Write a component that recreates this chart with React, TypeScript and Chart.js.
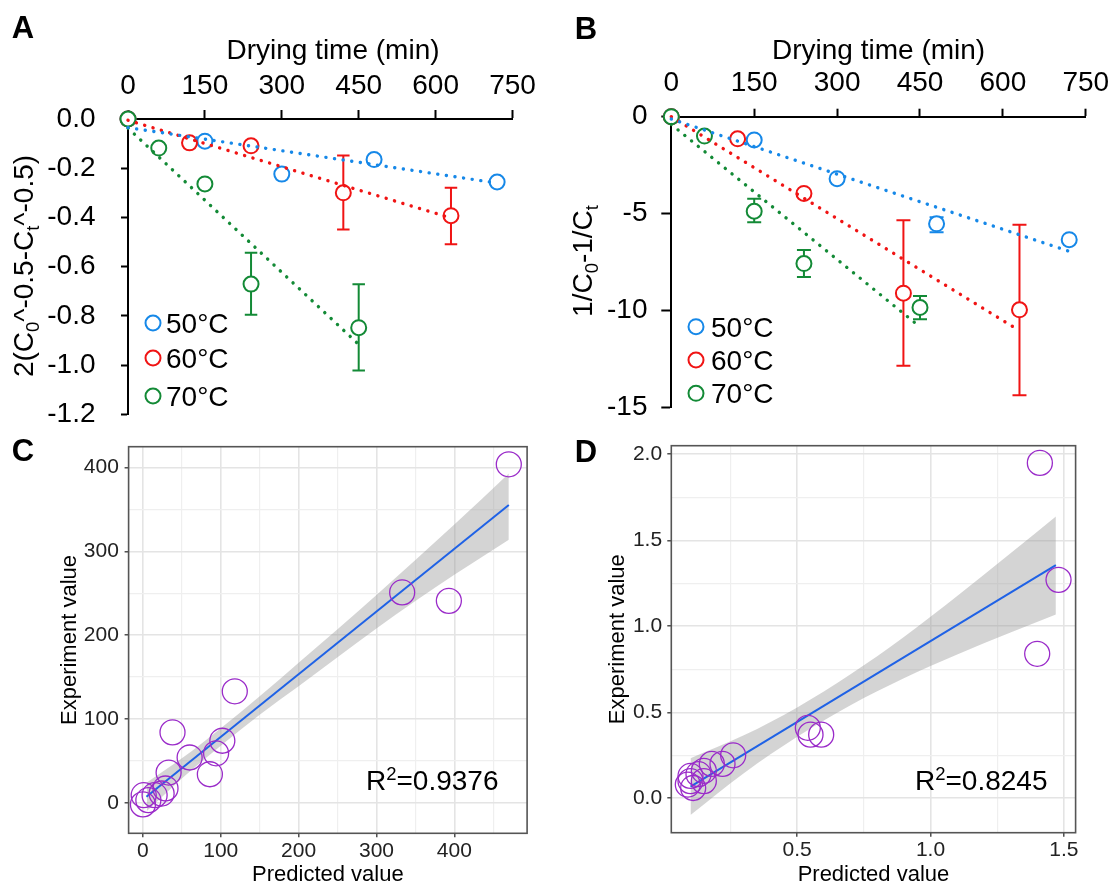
import React, { useEffect, useRef } from "react";
import { Chart, registerables } from "chart.js";

Chart.register(...registerables);

const FONT = "'Liberation Sans', Arial, Helvetica, sans-serif";

// ---------------- shared ----------------
const tempLabels = ["50°C", "60°C", "70°C"];
const tempColors = ["#1688E8", "#F01414", "#138A36"];
const timeTicks = [0, 150, 300, 450, 600, 750];

// ---------------- Panel A ----------------
const aYTicks = [0, -0.2, -0.4, -0.6, -0.8, -1.0, -1.2];
const a50Time = [0, 150, 300, 480, 720];
const a50Val = [0, -0.09, -0.224, -0.165, -0.256];
const a50Lo = [null, null, null, null, null];
const a50Hi = [null, null, null, null, null];
const a50FitTime = [0, 712];
const a50FitVal = [-0.035, -0.258];

const a60Time = [0, 120, 240, 420, 630];
const a60Val = [0, -0.097, -0.109, -0.3, -0.393];
const a60Lo = [null, null, null, -0.449, -0.509];
const a60Hi = [null, null, null, -0.148, -0.279];
const a60FitTime = [0, 625];
const a60FitVal = [-0.005, -0.399];

const a70Time = [0, 60, 150, 240, 450];
const a70Val = [0, -0.118, -0.264, -0.671, -0.848];
const a70Lo = [null, null, null, -0.795, -1.022];
const a70Hi = [null, null, null, -0.544, -0.672];
const a70FitTime = [0, 450];
const a70FitVal = [-0.037, -0.916];

// ---------------- Panel B ----------------
const bYTicks = [0, -5, -10, -15];
const b50Time = [0, 150, 300, 480, 720];
const b50Val = [0, -1.2, -3.2, -5.53, -6.35];
const b50Lo = [null, null, null, -5.96, null];
const b50Hi = [null, null, null, -5.19, null];
const b50FitTime = [0, 720];
const b50FitVal = [-0.12, -6.95];

const b60Time = [0, 120, 240, 420, 630];
const b60Val = [0, -1.14, -3.96, -9.11, -9.97];
const b60Lo = [null, null, null, -12.86, -14.38];
const b60Hi = [null, null, null, -5.35, -5.58];
const b60FitTime = [0, 620];
const b60FitVal = [0, -10.87];

const b70Time = [0, 60, 150, 240, 450];
const b70Val = [0, -1.0, -4.88, -7.58, -9.85];
const b70Lo = [null, null, -5.45, -8.28, -10.45];
const b70Hi = [null, null, -4.24, -6.88, -9.25];
const b70FitTime = [0, 450];
const b70FitVal = [-0.4, -10.85];

// ---------------- Panel C ----------------
const cXGrid = [0, 50, 100, 150, 200, 250, 300, 350, 400, 450];
const cYGrid = [0, 50, 100, 150, 200, 250, 300, 350, 400];
const cPredicted = [470, 333, 393, 118, 38, 102, 94, 60, 86, 33, 29, 24, 15, 7, 1, 0];
const cExperiment = [404, 251, 241, 133, 84, 74, 59, 54, 34, 36, 17, 11, 9, 3, 9, -2];
const cFitX = [4.5, 470];
const cFitY = [7.2, 355.5];
const cBandX = [5, 50, 100, 150, 200, 300, 400, 470];
const cBandUpper = [24, 53, 89, 127, 167, 248, 332, 393];
const cBandLower = [-10, 29, 68, 105, 139, 208, 272, 314];
const cR2 = "0.9376";

// ---------------- Panel D ----------------
const dXGrid = [0.25, 0.5, 0.75, 1.0, 1.25, 1.5];
const dYGrid = [0, 0.25, 0.5, 0.75, 1.0, 1.25, 1.5, 1.75, 2.0];
const dPredicted = [1.41, 1.48, 1.4, 0.54, 0.55, 0.59, 0.26, 0.22, 0.18, 0.15, 0.13, 0.1, 0.09, 0.11, 0.15, 0.1];
const dExperiment = [1.95, 1.27, 0.84, 0.41, 0.37, 0.37, 0.25, 0.2, 0.2, 0.16, 0.14, 0.13, 0.08, 0.06, 0.1, 0.1];
const dFitX = [0.1, 1.47];
const dFitY = [0.068, 1.356];
const dBandX = [0.1, 0.3, 0.5, 0.7, 0.9, 1.1, 1.3, 1.47];
const dBandUpper = [0.233, 0.366, 0.528, 0.721, 0.938, 1.176, 1.424, 1.638];
const dBandLower = [-0.097, 0.146, 0.358, 0.541, 0.698, 0.836, 0.964, 1.068];
const dR2 = "0.8245";

const PURPLE = "#9A2BC9";
const FIT_BLUE = "#1F62E6";

// ---------------- helpers ----------------
const pts = (xs: number[], ys: number[]) => xs.map((x, i) => ({ x, y: ys[i] }));

type Seg = { t: string; sub?: boolean; sup?: boolean };

function drawRich(
  ctx: CanvasRenderingContext2D,
  segs: Seg[],
  x: number,
  y: number,
  size: number,
  opts: { rotate?: boolean; align?: "left" | "center"; color?: string; bold?: boolean } = {}
) {
  const small = size * 0.66;
  ctx.save();
  ctx.translate(x, y);
  if (opts.rotate) ctx.rotate(-Math.PI / 2);
  ctx.fillStyle = opts.color || "#000";
  ctx.textAlign = "left";
  ctx.textBaseline = "alphabetic";
  const fontFor = (s: Seg) => `${opts.bold ? "bold " : ""}${s.sub || s.sup ? small : size}px ${FONT}`;
  const widths = segs.map((s) => {
    ctx.font = fontFor(s);
    return ctx.measureText(s.t).width;
  });
  const total = widths.reduce((a, b) => a + b, 0);
  let cx = opts.align === "left" ? 0 : -total / 2;
  const base = size * 0.358;
  segs.forEach((s, i) => {
    ctx.font = fontFor(s);
    const dy = s.sub ? size * 0.2 : s.sup ? -size * 0.36 : 0;
    ctx.fillText(s.t, cx, base + dy);
    cx += widths[i];
  });
  ctx.restore();
}

type Series = {
  label: string;
  color: string;
  x: number[];
  y: number[];
  lo: (number | null)[];
  hi: (number | null)[];
  fitX: number[];
  fitY: number[];
};

const seriesA: Series[] = [
  { label: tempLabels[0], color: tempColors[0], x: a50Time, y: a50Val, lo: a50Lo, hi: a50Hi, fitX: a50FitTime, fitY: a50FitVal },
  { label: tempLabels[1], color: tempColors[1], x: a60Time, y: a60Val, lo: a60Lo, hi: a60Hi, fitX: a60FitTime, fitY: a60FitVal },
  { label: tempLabels[2], color: tempColors[2], x: a70Time, y: a70Val, lo: a70Lo, hi: a70Hi, fitX: a70FitTime, fitY: a70FitVal },
];
const seriesB: Series[] = [
  { label: tempLabels[0], color: tempColors[0], x: b50Time, y: b50Val, lo: b50Lo, hi: b50Hi, fitX: b50FitTime, fitY: b50FitVal },
  { label: tempLabels[1], color: tempColors[1], x: b60Time, y: b60Val, lo: b60Lo, hi: b60Hi, fitX: b60FitTime, fitY: b60FitVal },
  { label: tempLabels[2], color: tempColors[2], x: b70Time, y: b70Val, lo: b70Lo, hi: b70Hi, fitX: b70FitTime, fitY: b70FitVal },
];

type KinParams = {
  series: Series[];
  yMin: number;
  yMax: number;
  yTicks: number[];
  yFmt: (v: number) => string;
  yAxisW: number;
  xAxisH: number;
  padRight: number;
  padBottom: number;
  xTickLen: number;
  yTickLen: number;
  xTickPad: number;
  yTickPad: number;
  capHalf: number;
  letter: string;
  letterX: number;
  letterY: number;
  xTitleX: number;
  xTitleY: number;
  yTitle: Seg[];
  yTitleX: number;
  yTitleY: number;
  legendCX: number;
  legendTX: number;
  legendYs: number[];
};

function kineticConfig(p: KinParams): any {
  const datasets: any[] = [];
  p.series.forEach((s, i) => {
    datasets.push({
      label: s.label,
      data: pts(s.x, s.y),
      showLine: false,
      borderColor: s.color,
      backgroundColor: "#fff",
      pointRadius: 7.5,
      pointBorderWidth: 2,
      pointBackgroundColor: "#fff",
      pointBorderColor: s.color,
      order: 3 - i,
      clip: false,
    });
  });
  p.series.forEach((s) => {
    datasets.push({
      label: s.label + " fit",
      data: pts(s.fitX, s.fitY),
      showLine: true,
      borderColor: s.color,
      borderWidth: 3.4,
      borderDash: [0.1, 8.6],
      borderCapStyle: "round",
      pointRadius: 0,
      fill: false,
      order: 0,
      clip: false,
      tension: 0,
    });
  });

  const plugin = {
    id: "kineticExtras",
    beforeDatasetsDraw(chart: any) {
      const ctx = chart.ctx as CanvasRenderingContext2D;
      const xs = chart.scales.x;
      const ys = chart.scales.y;
      p.series.forEach((s) => {
        s.x.forEach((xv, i) => {
          const lo = s.lo[i];
          const hi = s.hi[i];
          if (lo == null || hi == null) return;
          const px = xs.getPixelForValue(xv);
          const pl = ys.getPixelForValue(lo);
          const ph = ys.getPixelForValue(hi);
          ctx.save();
          ctx.strokeStyle = s.color;
          ctx.lineWidth = 2;
          ctx.beginPath();
          ctx.moveTo(px, pl);
          ctx.lineTo(px, ph);
          ctx.moveTo(px - p.capHalf, pl);
          ctx.lineTo(px + p.capHalf, pl);
          ctx.moveTo(px - p.capHalf, ph);
          ctx.lineTo(px + p.capHalf, ph);
          ctx.stroke();
          ctx.restore();
        });
      });
    },
    afterDraw(chart: any) {
      const ctx = chart.ctx as CanvasRenderingContext2D;
      drawRich(ctx, [{ t: p.letter }], p.letterX, p.letterY, 31, { bold: true });
      drawRich(ctx, [{ t: "Drying time (min)" }], p.xTitleX, p.xTitleY, 28);
      drawRich(ctx, p.yTitle, p.yTitleX, p.yTitleY, 28, { rotate: true });
      p.series.forEach((s, i) => {
        const y = p.legendYs[i];
        ctx.save();
        ctx.beginPath();
        ctx.arc(p.legendCX, y, 7.5, 0, Math.PI * 2);
        ctx.fillStyle = "#fff";
        ctx.fill();
        ctx.lineWidth = 2;
        ctx.strokeStyle = s.color;
        ctx.stroke();
        ctx.restore();
        drawRich(ctx, [{ t: s.label }], p.legendTX, y, 28, { align: "left" });
      });
    },
  };

  return {
    type: "line",
    data: { datasets },
    plugins: [plugin],
    options: {
      responsive: false,
      animation: false,
      devicePixelRatio: 1,
      events: [],
      layout: { padding: { left: 0, top: 0, right: p.padRight, bottom: p.padBottom } },
      plugins: { legend: { display: false }, tooltip: { enabled: false }, title: { display: false } },
      scales: {
        x: {
          type: "linear",
          position: "top",
          min: 0,
          max: 750,
          afterBuildTicks: (s: any) => {
            s.ticks = timeTicks.map((v) => ({ value: v }));
          },
          afterFit: (s: any) => {
            s.height = p.xAxisH;
            s.paddingLeft = 0;
            s.paddingRight = 0;
          },
          ticks: {
            font: { family: FONT, size: 28 },
            color: "#000",
            padding: p.xTickPad,
            maxRotation: 0,
            minRotation: 0,
            autoSkip: false,
            callback: (v: any) => String(v),
          },
          grid: { drawOnChartArea: false, drawTicks: true, tickLength: p.xTickLen, tickWidth: 2, tickColor: "#000" },
          border: { display: true, color: "#000", width: 2 },
        },
        y: {
          type: "linear",
          min: p.yMin,
          max: p.yMax,
          afterBuildTicks: (s: any) => {
            s.ticks = p.yTicks.map((v) => ({ value: v }));
          },
          afterFit: (s: any) => {
            s.width = p.yAxisW;
            s.paddingTop = 0;
            s.paddingBottom = 0;
          },
          ticks: {
            font: { family: FONT, size: 28 },
            color: "#000",
            padding: p.yTickPad,
            autoSkip: false,
            callback: (v: any) => p.yFmt(Number(v)),
          },
          grid: { drawOnChartArea: false, drawTicks: true, tickLength: p.yTickLen, tickWidth: 2, tickColor: "#000" },
          border: { display: true, color: "#000", width: 2 },
        },
      },
    },
  };
}

type RegParams = {
  px: number[];
  py: number[];
  fitX: number[];
  fitY: number[];
  bandX: number[];
  bandUp: number[];
  bandLo: number[];
  xMin: number;
  xMax: number;
  yMin: number;
  yMax: number;
  xGrid: number[];
  yGrid: number[];
  isMajorX: (v: number) => boolean;
  isMajorY: (v: number) => boolean;
  fmt: (v: number) => string;
  yAxisW: number;
  xAxisH: number;
  padTop: number;
  padRight: number;
  yTickPad: number;
  yTitlePad: number;
  letter: string;
  letterX: number;
  letterY: number;
  r2: string;
  r2X: number;
  r2Y: number;
};

function regressionConfig(p: RegParams): any {
  const datasets: any[] = [
    {
      label: "ci upper",
      data: pts(p.bandX, p.bandUp),
      showLine: true,
      borderWidth: 0,
      borderColor: "rgba(0,0,0,0)",
      pointRadius: 0,
      fill: "+1",
      backgroundColor: "rgba(153,153,153,0.42)",
      cubicInterpolationMode: "monotone",
      order: 2,
    },
    {
      label: "ci lower",
      data: pts(p.bandX, p.bandLo),
      showLine: true,
      borderWidth: 0,
      borderColor: "rgba(0,0,0,0)",
      pointRadius: 0,
      fill: false,
      cubicInterpolationMode: "monotone",
      order: 2,
    },
    {
      label: "fit",
      data: pts(p.fitX, p.fitY),
      showLine: true,
      borderColor: FIT_BLUE,
      borderWidth: 2,
      pointRadius: 0,
      fill: false,
      order: 1,
    },
    {
      label: "points",
      data: pts(p.px, p.py),
      showLine: false,
      borderColor: PURPLE,
      pointRadius: 12.5,
      pointBorderWidth: 1.3,
      pointBorderColor: PURPLE,
      pointBackgroundColor: "rgba(0,0,0,0)",
      order: 0,
      clip: false,
    },
  ];

  const plugin = {
    id: "regExtras",
    afterDraw(chart: any) {
      const ctx = chart.ctx as CanvasRenderingContext2D;
      const a = chart.chartArea;
      ctx.save();
      ctx.strokeStyle = "#555";
      ctx.lineWidth = 1.6;
      ctx.strokeRect(a.left, a.top, a.right - a.left, a.bottom - a.top);
      ctx.restore();
      drawRich(ctx, [{ t: p.letter }], p.letterX, p.letterY, 31, { bold: true });
      drawRich(ctx, [{ t: "R" }, { t: "2", sup: true }, { t: "=" + p.r2 }], p.r2X, p.r2Y, 28, { align: "left" });
    },
  };

  const gridColor = (major: boolean) => (major ? "#E4E4E4" : "#EFEFEF");

  return {
    type: "line",
    data: { datasets },
    plugins: [plugin],
    options: {
      responsive: false,
      animation: false,
      devicePixelRatio: 1,
      events: [],
      layout: { padding: { left: 0, top: p.padTop, right: p.padRight, bottom: 0 } },
      plugins: { legend: { display: false }, tooltip: { enabled: false }, title: { display: false } },
      scales: {
        x: {
          type: "linear",
          position: "bottom",
          min: p.xMin,
          max: p.xMax,
          afterBuildTicks: (s: any) => {
            s.ticks = p.xGrid.map((v) => ({ value: v }));
          },
          afterFit: (s: any) => {
            s.height = p.xAxisH;
            s.paddingLeft = 0;
            s.paddingRight = 0;
          },
          ticks: {
            font: { family: FONT, size: 21 },
            color: "#222",
            padding: 1,
            maxRotation: 0,
            minRotation: 0,
            autoSkip: false,
            callback: (v: any) => (p.isMajorX(Number(v)) ? p.fmt(Number(v)) : ""),
          },
          grid: {
            drawOnChartArea: true,
            drawTicks: true,
            tickLength: 4,
            tickWidth: 1.3,
            color: (c: any) => gridColor(p.isMajorX(c.tick.value)),
            lineWidth: (c: any) => (p.isMajorX(c.tick.value) ? 1.6 : 1.2),
            tickColor: (c: any) => (p.isMajorX(c.tick.value) ? "#333" : "rgba(0,0,0,0)"),
          },
          border: { display: false },
          title: {
            display: true,
            text: "Predicted value",
            font: { family: FONT, size: 22 },
            color: "#000",
            padding: { top: 0, bottom: 11.8 },
          },
        },
        y: {
          type: "linear",
          min: p.yMin,
          max: p.yMax,
          afterBuildTicks: (s: any) => {
            s.ticks = p.yGrid.map((v) => ({ value: v }));
          },
          afterFit: (s: any) => {
            s.width = p.yAxisW;
            s.paddingTop = 0;
            s.paddingBottom = 0;
          },
          ticks: {
            font: { family: FONT, size: 21 },
            color: "#222",
            padding: p.yTickPad,
            autoSkip: false,
            callback: (v: any) => (p.isMajorY(Number(v)) ? p.fmt(Number(v)) : ""),
          },
          grid: {
            drawOnChartArea: true,
            drawTicks: true,
            tickLength: 4,
            tickWidth: 1.3,
            color: (c: any) => gridColor(p.isMajorY(c.tick.value)),
            lineWidth: (c: any) => (p.isMajorY(c.tick.value) ? 1.6 : 1.2),
            tickColor: (c: any) => (p.isMajorY(c.tick.value) ? "#333" : "rgba(0,0,0,0)"),
          },
          border: { display: false },
          title: {
            display: true,
            text: "Experiment value",
            font: { family: FONT, size: 22 },
            color: "#000",
            padding: { top: p.yTitlePad, bottom: 0 },
          },
        },
      },
    },
  };
}

const makeA = () =>
  kineticConfig({
    series: seriesA,
    yMin: -1.2,
    yMax: 0,
    yTicks: aYTicks,
    yFmt: (v) => v.toFixed(1),
    yAxisW: 128,
    xAxisH: 119,
    padRight: 42.5,
    padBottom: 25.7,
    xTickLen: 9,
    yTickLen: 7,
    xTickPad: 7,
    yTickPad: 25.5,
    capHalf: 6.25,
    letter: "A",
    letterX: 23,
    letterY: 27,
    xTitleX: 333,
    xTitleY: 49,
    yTitle: [{ t: "2(C" }, { t: "0", sub: true }, { t: "^-0.5-C" }, { t: "t", sub: true }, { t: "^-0.5)" }],
    yTitleX: 23,
    yTitleY: 266,
    legendCX: 153,
    legendTX: 166,
    legendYs: [323, 358, 396],
  });

const makeB = () =>
  kineticConfig({
    series: seriesB,
    yMin: -15,
    yMax: 0,
    yTicks: bYTicks,
    yFmt: (v) => String(v),
    yAxisW: 116.3,
    xAxisH: 116.7,
    padRight: 25.2,
    padBottom: 32.7,
    xTickLen: 8,
    yTickLen: 10,
    xTickPad: 8.6,
    yTickPad: 13.8,
    capHalf: 7,
    letter: "B",
    letterX: 31,
    letterY: 27.5,
    xTitleX: 323.6,
    xTitleY: 49.3,
    yTitle: [{ t: "1/C" }, { t: "0", sub: true }, { t: "-1/C" }, { t: "t", sub: true }],
    yTitleX: 27,
    yTitleY: 261,
    legendCX: 141,
    legendTX: 156,
    legendYs: [326.7, 360, 393.3],
  });

const makeC = () =>
  regressionConfig({
    px: cPredicted,
    py: cExperiment,
    fitX: cFitX,
    fitY: cFitY,
    bandX: cBandX,
    bandUp: cBandUpper,
    bandLo: cBandLower,
    xMin: -18.4,
    xMax: 493.5,
    yMin: -36.5,
    yMax: 425,
    xGrid: cXGrid,
    yGrid: cYGrid,
    isMajorX: (v) => Math.abs(v % 100) < 1e-6,
    isMajorY: (v) => Math.abs(v % 100) < 1e-6,
    fmt: (v) => String(v),
    yAxisW: 128.6,
    xAxisH: 66.7,
    padTop: 26.7,
    padRight: 27.9,
    yTickPad: 5.7,
    yTitlePad: 56.4,
    letter: "C",
    letterX: 23,
    letterY: 30,
    r2: cR2,
    r2X: 366,
    r2Y: 360,
  });

const makeD = () =>
  regressionConfig({
    px: dPredicted,
    py: dExperiment,
    fitX: dFitX,
    fitY: dFitY,
    bandX: dBandX,
    bandUp: dBandUpper,
    bandLo: dBandLower,
    xMin: 0.028,
    xMax: 1.544,
    yMin: -0.2,
    yMax: 2.05,
    xGrid: dXGrid,
    yGrid: dYGrid,
    isMajorX: (v) => Math.abs(v * 2 - Math.round(v * 2)) < 1e-6,
    isMajorY: (v) => Math.abs(v * 2 - Math.round(v * 2)) < 1e-6,
    fmt: (v) => v.toFixed(1),
    yAxisW: 116.3,
    xAxisH: 67.3,
    padTop: 25.7,
    padRight: 35.4,
    yTickPad: 5.2,
    yTitlePad: 49.9,
    letter: "D",
    letterX: 31,
    letterY: 31,
    r2: dR2,
    r2X: 360,
    r2Y: 360,
  });

function ChartCanvas(props: { left: number; top: number; width: number; height: number; make: () => any }) {
  const ref = useRef<HTMLCanvasElement | null>(null);
  useEffect(() => {
    if (!ref.current) return;
    const chart = new Chart(ref.current, props.make());
    return () => chart.destroy();
  }, []);
  return (
    <canvas
      ref={ref}
      width={props.width}
      height={props.height}
      style={{ position: "absolute", left: props.left, top: props.top, width: props.width, height: props.height, display: "block" }}
    />
  );
}

export default function App() {
  return (
    <div style={{ position: "absolute", left: 0, top: 0, width: 1111, height: 885, overflow: "hidden", background: "#fff" }}>
      <ChartCanvas left={0} top={0} width={555} height={440} make={makeA} />
      <ChartCanvas left={555} top={0} width={556} height={440} make={makeB} />
      <ChartCanvas left={0} top={420} width={555} height={480} make={makeC} />
      <ChartCanvas left={555} top={420} width={556} height={480} make={makeD} />
    </div>
  );
}
